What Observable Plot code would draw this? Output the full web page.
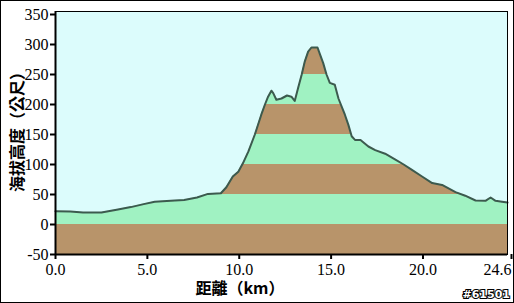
<!DOCTYPE html>
<html>
<head>
<meta charset="utf-8">
<script src="https://cdn.jsdelivr.net/npm/d3@7"></script>
<script src="https://cdn.jsdelivr.net/npm/@observablehq/plot@0.6"></script>
<style>
  html, body { margin: 0; padding: 0; background: #fff; }
</style>
</head>
<body>
<div id="chart"></div>
<script>
// distance (km) and elevation (m)
const dist = [0, 0.8, 1.5, 2.5, 3.4, 4.1, 4.8, 5.4, 6.5, 7.0, 7.7, 8.3, 9.0, 9.3, 9.65, 9.95, 10.2, 10.5, 10.85, 11.2, 11.4, 11.57, 11.75, 11.85, 12.02, 12.3, 12.6, 12.84, 13.02, 13.2, 13.4, 13.57, 13.75, 13.93, 14.26, 14.4, 14.57, 14.75, 14.93, 15.2, 15.4, 15.57, 15.75, 15.94, 16.12, 16.3, 16.6, 17.03, 17.4, 17.94, 18.5, 18.95, 19.4, 19.95, 20.5, 21.04, 21.77, 22.3, 22.86, 23.4, 23.68, 23.95, 24.3, 24.6];
const elev = [22, 21.5, 20, 20, 25, 29, 34, 38, 40, 41, 45, 51, 52, 62, 80, 88, 102, 122, 150, 183, 200, 213, 223, 219, 208, 210, 215, 213, 206, 227, 250, 272, 288, 295, 295, 283, 269, 250, 236, 233, 210, 197, 183, 166, 147, 141, 141, 130, 124, 118, 108, 100, 91, 80, 69, 66, 54, 48, 40, 39.5, 45, 39.5, 38, 36.5];
const yTicks = [-50, 0, 50, 100, 150, 200, 250, 300, 350];
const xTicks = [0, 5, 10, 15, 20];
const xEndTick = [24.6];
const bandLows = [-50, 0, 50, 100, 150, 200, 250, 300];
const bandStep = 50;

const W = 514, H = 303;
const SKY = "#dcfcfc", GREEN = "#a0f2c2", BROWN = "#b8946a", LINE = "#3c5a4e";
const yTop = 355;

const data = dist.map((d, i) => ({d, e: elev[i]}));
const bands = bandLows.map((lo, i) => ({lo, hi: lo + bandStep, i}));

const axisFont = {fontSize: 16, fontFamily: "Liberation Serif"};

const chart = Plot.plot({
  width: W,
  height: H,
  marginLeft: 55,
  marginRight: 7,
  marginTop: 11,
  marginBottom: 49,
  style: {background: "#fff", overflow: "visible"},
  x: {domain: [0, 24.6], label: null},
  y: {domain: [-50, yTop], label: null},
  marks: [
    Plot.frame({fill: SKY}),
    Plot.rectY(bands, {x1: 0, x2: 24.6, y1: "lo", y2: "hi", fill: d => d.i % 2 === 0 ? BROWN : GREEN, insetTop: 0, insetBottom: 0}),
    Plot.areaY(data, {x: "d", y1: "e", y2: yTop, fill: SKY}),
    Plot.line(data, {x: "d", y: "e", stroke: LINE, strokeWidth: 2}),
    Plot.frame({stroke: "#000", strokeWidth: 1}),
    Plot.ruleX([0], {stroke: "#000", strokeWidth: 2}),
    Plot.ruleY([-50], {stroke: "#000", strokeWidth: 2}),
    Plot.axisY({ticks: yTicks, tickFormat: d => String(d), tickSize: 5, tickPadding: 2, strokeWidth: 2, ...axisFont, label: null}),
    Plot.axisX({ticks: xTicks, tickFormat: d => d.toFixed(1), tickSize: 5, tickPadding: 4, strokeWidth: 2, ...axisFont, label: null}),
    Plot.axisX({ticks: xEndTick, tickFormat: d => d.toFixed(1), tickSize: 5, tickPadding: 4, strokeWidth: 2, textAnchor: "end", dx: 4, ...axisFont, label: null})
  ]
});

const svg = d3.select(chart);
svg.selectAll("text").attr("fill", "#000");

svg.append("text")
  .attr("x", 240).attr("y", 294)
  .attr("font-family", "'Noto Sans CJK TC', 'Noto Sans CJK SC', sans-serif")
  .attr("font-weight", "bold").attr("font-size", 16).attr("fill", "#000")
  .text("距離（km）");

svg.append("text")
  .attr("transform", "translate(16,128) rotate(-90)")
  .attr("text-anchor", "middle").attr("dominant-baseline", "central")
  .attr("font-family", "'Noto Sans CJK TC', 'Noto Sans CJK SC', sans-serif")
  .attr("font-weight", "bold").attr("font-size", 16).attr("fill", "#000")
  .text("海拔高度（公尺）");

svg.append("text")
  .attr("x", 510).attr("y", 298)
  .attr("text-anchor", "end")
  .attr("font-family", "'DejaVu Sans', sans-serif")
  .attr("font-weight", "bold").attr("font-size", 11)
  .attr("fill", "#fff").attr("stroke", "#000").attr("stroke-width", 2)
  .attr("paint-order", "stroke")
  .text("#61501");

svg.append("rect")
  .attr("x", 0.5).attr("y", 0.5).attr("width", W - 1).attr("height", H - 1)
  .attr("fill", "none").attr("stroke", "#000").attr("stroke-width", 1);

document.getElementById("chart").appendChild(chart);
</script>
</body>
</html>
